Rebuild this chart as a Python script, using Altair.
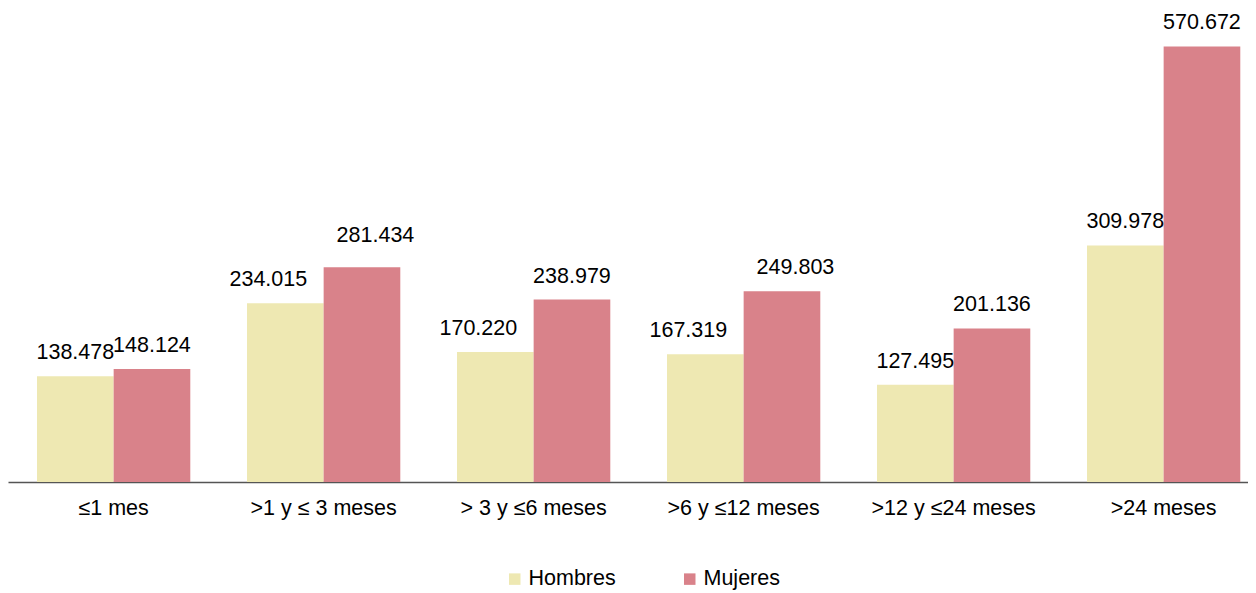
import altair as alt
import pandas as pd

categories = ["≤1 mes", ">1 y ≤ 3 meses", "> 3 y ≤6 meses", ">6 y ≤12 meses", ">12 y ≤24 meses", ">24 meses"]
hombres = [138478, 234015, 170220, 167319, 127495, 309978]
mujeres = [148124, 281434, 238979, 249803, 201136, 570672]
series = ["Hombres", "Mujeres"]
colors = ["#EEE8B2", "#D9828A"]

rows = []
for c, h, m in zip(categories, hombres, mujeres):
    rows.append({"cat": c, "serie": "Hombres", "v": h})
    rows.append({"cat": c, "serie": "Mujeres", "v": m})
df = pd.DataFrame(rows)

FONT = "Liberation Sans"
FS = 21.5

x = alt.X("cat:N", sort=categories, title=None,
          scale=alt.Scale(paddingInner=0.27, paddingOuter=0.0874, align=0.79),
          axis=alt.Axis(labelAngle=0, labelFontSize=FS, labelFont=FONT, labelColor="#000000",
                        labelPadding=15, ticks=False, domainColor="#555555", domainWidth=1.5,
                        labelLimit=300))
xo = alt.XOffset("serie:N", sort=series, scale=alt.Scale(paddingInner=0, paddingOuter=0))
y = alt.Y("v:Q", scale=alt.Scale(domain=[0, 600000]), axis=None)

base = alt.Chart(df).transform_calculate(
    lab="replace(format(datum.v, ','), ',', '.')"
)

bars = base.mark_bar().encode(
    x=x, xOffset=xo, y=y,
    color=alt.Color("serie:N", sort=series, title=None,
                    scale=alt.Scale(domain=series, range=colors),
                    legend=alt.Legend(orient="none", legendX=496, legendY=544, direction="horizontal",
                                      symbolType="square", symbolSize=132, symbolStrokeWidth=0,
                                      labelFontSize=FS, labelFont=FONT, labelColor="#000000",
                                      columnPadding=63, labelOffset=3, padding=0, labelLimit=200)),
)

def txt(filt, dx=0, dy=0):
    return base.transform_filter(filt).mark_text(
        baseline="alphabetic", dy=-17 + dy, dx=dx, fontSize=FS, font=FONT, color="#000000"
    ).encode(x=x, xOffset=xo, y=y, text="lab:N")

def cat_in(idxs):
    return "indexof([" + ",".join(f"'{categories[i]}'" for i in idxs) + "], datum.cat) >= 0"

# label nudges (as placed in the original figure)
layers = [
    txt(f"datum.serie == 'Hombres' && !({cat_in([1, 2, 3])})"),
    txt(f"datum.serie == 'Hombres' && {cat_in([1, 2, 3])}", dx=-17),
    txt(f"datum.serie == 'Mujeres' && !({cat_in([1, 3])})"),
    txt(f"datum.serie == 'Mujeres' && {cat_in([3])}", dx=13.5),
    txt(f"datum.serie == 'Mujeres' && {cat_in([1])}", dx=13.5, dy=-8),
]

chart = alt.layer(bars, *layers).properties(
    width=1240, height=458,
    autosize=alt.AutoSizeParams(type="none"),
    padding={"top": 16, "left": 0, "right": 0, "bottom": 111},
    background="#ffffff",
).configure_view(stroke=None)

chart.save("out.html", embed_options={"renderer": "svg", "actions": False})
